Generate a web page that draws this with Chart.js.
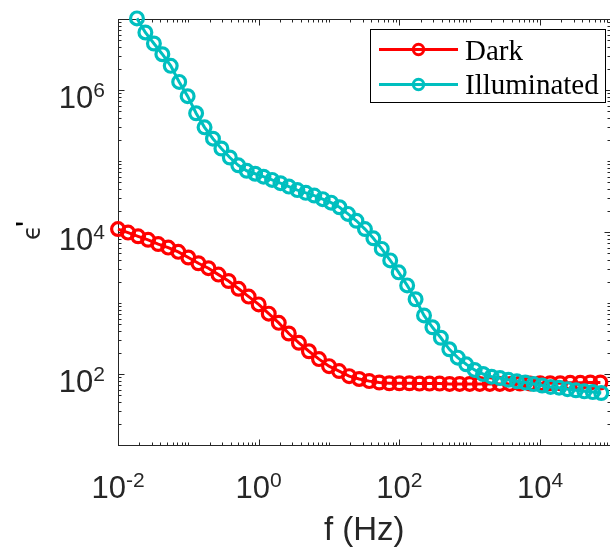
<!DOCTYPE html>
<html>
<head>
<meta charset="utf-8">
<script src="https://cdn.jsdelivr.net/npm/chart.js@4.4.1/dist/chart.umd.min.js"></script>
<style>
  html, body { margin: 0; padding: 0; background: #fff; overflow: hidden; width: 610px; height: 548px; }
  canvas { display: block; }
</style>
</head>
<body>
<canvas id="chart" width="620" height="548" style="width:620px;height:548px"></canvas>
<script>
// Frequency grids (Hz) and real permittivity for each condition
const freqDark = [0.01, 0.0139, 0.0193, 0.0268, 0.0373, 0.0518, 0.072,
  0.1, 0.139, 0.193, 0.268, 0.373, 0.518, 0.72,
  1, 1.39, 1.93, 2.68, 3.73, 5.18, 7.2,
  10, 13.9, 19.3, 26.8, 37.3, 51.8, 72,
  100, 139, 193, 268, 373, 518, 720,
  1000, 1390, 1930, 2680, 3730, 5180, 7200,
  10000, 13900, 19300, 26800, 37300, 51800, 72000];
const epsDark = [11000, 9800, 8700, 7760, 6760, 6030, 5250,
  4370, 3630, 3090, 2510, 2040, 1585, 1230,
  955, 708, 525, 372, 275, 209, 162,
  129, 110, 93.3, 85.1, 79.4, 75.9, 74.1,
  74.1, 74.1, 73.3, 73.3, 73.3, 72.4, 72.4,
  72.4, 72.4, 72.4, 72.4, 72.4, 73.3, 73.3,
  74.1, 74.1, 74.1, 75, 75, 75.9, 75.9];

const freqIllum = [0.0186, 0.0245, 0.0324, 0.0427, 0.0562, 0.0741, 0.0977,
  0.129, 0.170, 0.224, 0.295, 0.389, 0.513, 0.676, 0.891,
  1.17, 1.55, 2.04, 2.69, 3.55, 4.68, 6.17, 8.13,
  10.7, 14.1, 18.6, 24.5, 32.4, 42.7, 56.2, 74.1, 97.7,
  129, 170, 224, 295, 389, 513, 676, 891,
  1175, 1549, 2042, 2692, 3548, 4677, 6166, 8128,
  10715, 14125, 18621, 24547, 32359, 42658, 56234, 74131];
const epsIllum = [1.02e7, 6.46e6, 4.52e6, 3.19e6, 2.19e6, 1.30e6, 8.18e5,
  4.70e5, 2.98e5, 2.06e5, 1.50e5, 1.12e5, 87000, 72800, 66200,
  60100, 54200, 48700, 43600, 38900, 35600, 32600, 29000,
  25900, 22300, 18000, 14400, 11000, 8150, 5780, 3980, 2700,
  1770, 1130, 668, 455, 324, 223, 170, 137,
  114, 100, 91.6, 87.5, 82.8, 78.9, 75.7, 72.1,
  68.9, 65.8, 64.1, 61.2, 58.9, 57.0, 55.6, 54.0];

const seriesNames = ['Dark', 'Illuminated'];
const seriesColors = ['#FF0000', '#00BFBF'];

// Decade labels (powers of ten) shown on each axis
const xLabelExponents = ['-2', '0', '2', '4'];
const yLabelExponents = ['2', '4', '6'];
const xTitle = 'f (Hz)';
const yTitleSymbol = '\u03F5';
const yTitlePrime = "'";

const INK = '#262626';
const SANS = '"Liberation Sans", Arial, Helvetica, sans-serif';

function toPoints(xs, ys) {
  return xs.map((f, i) => ({ x: f, y: ys[i] }));
}

function line(ctx, x1, y1, x2, y2) {
  ctx.beginPath();
  ctx.moveTo(x1, y1);
  ctx.lineTo(x2, y2);
  ctx.stroke();
}

// Draws "10" with a raised exponent; anchor is 'center' or 'right'
function drawPower(ctx, exp, x, baseline, anchor) {
  const baseFont = '31px ' + SANS;
  const supFont = '21px ' + SANS;
  ctx.font = baseFont;
  const wb = ctx.measureText('10').width;
  ctx.font = supFont;
  const we = ctx.measureText(exp).width;
  const total = wb + we;
  const start = anchor === 'center' ? x - total / 2 : x - total;
  ctx.textAlign = 'left';
  ctx.textBaseline = 'alphabetic';
  ctx.font = baseFont;
  ctx.fillText('10', start, baseline);
  ctx.font = supFont;
  ctx.fillText(exp, start + wb, baseline - 11);
}

// Box and inward tick marks, drawn beneath the data
const axesBox = {
  id: 'axesBox',
  beforeDatasetsDraw(chart) {
    const { ctx, chartArea: a, scales: { x, y } } = chart;
    ctx.save();
    ctx.strokeStyle = INK;
    ctx.lineWidth = 1;
    const L = Math.round(a.left) + 0.5, R = Math.round(a.right) + 0.5;
    const T = Math.round(a.top) + 0.5, B = Math.round(a.bottom) + 0.5;
    ctx.strokeRect(L, T, R - L, B - T);
    for (let e = -2; e <= 5; e++) {
      for (let m = 1; m <= 9; m++) {
        const v = m * Math.pow(10, e);
        if (v > x.max * 1.0001) continue;
        const px = Math.round(x.getPixelForValue(v)) + 0.5;
        const len = (m === 1 && e % 2 === 0) ? 6 : 3;
        line(ctx, px, B, px, B - len);
        line(ctx, px, T, px, T + len);
      }
    }
    for (let e = 1; e <= 7; e++) {
      for (let m = 1; m <= 9; m++) {
        const v = m * Math.pow(10, e);
        if (v > y.max * 1.0001) continue;
        const py = Math.round(y.getPixelForValue(v)) + 0.5;
        const len = (m === 1 && e % 2 === 0) ? 6 : 3;
        line(ctx, L, py, L + len, py);
        line(ctx, R, py, R - len, py);
      }
    }
    ctx.restore();
  }
};

// Tick labels, axis titles and the legend
const annotations = {
  id: 'annotations',
  afterDraw(chart) {
    const { ctx, chartArea: a, scales: { x, y } } = chart;
    ctx.save();
    ctx.fillStyle = INK;
    xLabelExponents.forEach(exp => {
      const px = x.getPixelForValue(Math.pow(10, Number(exp)));
      drawPower(ctx, exp, px, a.bottom + 53, 'center');
    });
    yLabelExponents.forEach(exp => {
      const py = y.getPixelForValue(Math.pow(10, Number(exp)));
      drawPower(ctx, exp, a.left - 13, py + 17.5, 'right');
    });

    // x title, centred under the axis
    ctx.font = '33px ' + SANS;
    ctx.textAlign = 'center';
    ctx.textBaseline = 'alphabetic';
    ctx.fillText(xTitle, (a.left + a.right) / 2, 540);

    // y title, rotated
    ctx.save();
    ctx.translate(40, (a.top + a.bottom) / 2);
    ctx.rotate(-Math.PI / 2);
    ctx.textAlign = 'left';
    ctx.font = '24px "DejaVu Sans", sans-serif';
    ctx.fillText(yTitleSymbol, -8, 0);
    ctx.fillStyle = '#000';
    ctx.font = '32px ' + SANS;
    ctx.fillText(yTitlePrime, 5, -2);
    ctx.restore();

    // legend
    const lx = 370.5, ly = 29.5, lw = 235, lh = 73;
    ctx.fillStyle = '#fff';
    ctx.fillRect(lx, ly, lw, lh);
    ctx.strokeStyle = '#000';
    ctx.lineWidth = 1;
    ctx.strokeRect(lx, ly, lw, lh);
    const rows = [49.5, 84.5];
    const baselines = [60, 93.5];
    seriesNames.forEach((name, i) => {
      ctx.strokeStyle = seriesColors[i];
      ctx.lineWidth = 3;
      line(ctx, 379, rows[i], 458, rows[i]);
      ctx.beginPath();
      ctx.arc(418.5, rows[i], 5.2, 0, Math.PI * 2);
      ctx.stroke();
      ctx.fillStyle = '#000';
      ctx.font = '29px "Liberation Serif", "Times New Roman", serif';
      ctx.textAlign = 'left';
      ctx.textBaseline = 'alphabetic';
      ctx.fillText(name, 465, baselines[i]);
    });
    ctx.restore();
  }
};

const seriesStyle = (color) => ({
  borderColor: color,
  borderWidth: 3,
  pointRadius: 6.4,
  pointBorderWidth: 3.2,
  pointBorderColor: color,
  pointBackgroundColor: 'rgba(0,0,0,0)',
  pointStyle: 'circle',
  tension: 0,
  fill: false,
  clip: false
});

new Chart(document.getElementById('chart'), {
  type: 'line',
  data: {
    datasets: [
      Object.assign({ label: seriesNames[0], data: toPoints(freqDark, epsDark), order: 1 }, seriesStyle(seriesColors[0])),
      Object.assign({ label: seriesNames[1], data: toPoints(freqIllum, epsIllum), order: 0 }, seriesStyle(seriesColors[1]))
    ]
  },
  options: {
    responsive: false,
    devicePixelRatio: 1,
    animation: false,
    events: [],
    layout: { padding: { left: 118, top: 19, right: 5, bottom: 103 } },
    plugins: { legend: { display: false }, tooltip: { enabled: false } },
    scales: {
      x: {
        type: 'logarithmic', min: 0.01, max: 100000,
        ticks: { display: false }, grid: { display: false }, border: { display: false },
        afterFit: (s) => { s.height = 0; }
      },
      y: {
        type: 'logarithmic', min: 10, max: 10000000,
        ticks: { display: false }, grid: { display: false }, border: { display: false },
        afterFit: (s) => { s.width = 0; }
      }
    }
  },
  plugins: [axesBox, annotations]
});
</script>
</body>
</html>
